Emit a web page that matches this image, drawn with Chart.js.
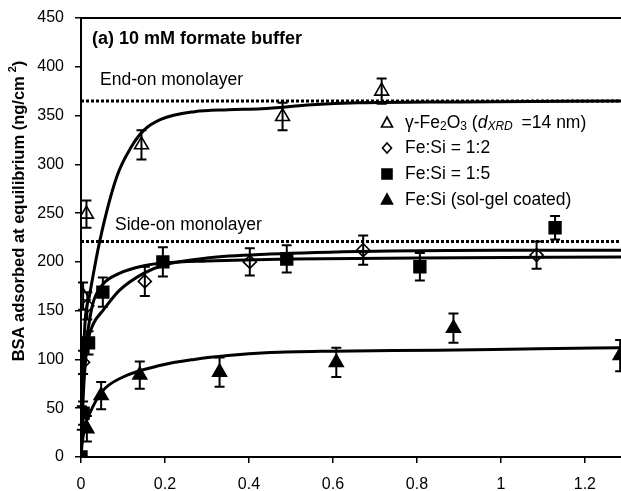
<!DOCTYPE html>
<html>
<head>
<meta charset="utf-8">
<script src="https://cdn.jsdelivr.net/npm/chart.js@4/dist/chart.umd.min.js"></script>
<style>
html,body{margin:0;padding:0;background:#fff;}
#wrap{width:621px;height:491px;position:relative;}
</style>
</head>
<body>
<div id="wrap"><canvas id="c"></canvas></div>
<script>
// ---- data ----
const xTickLabels = ['0','0.2','0.4','0.6','0.8','1','1.2'];
const yTickLabels = ['0','50','100','150','200','250','300','350','400','450'];

const gammaX   = [0, 0.005, 0.013, 0.144, 0.48, 0.716];
const gammaY   = [0, 165, 249, 320, 349, 375];
const gammaErr = [0, 14, 14, 15, 14, 13];

const fs12X   = [0, 0.002, 0.005, 0.015, 0.152, 0.402, 0.672, 1.085];
const fs12Y   = [0, 40, 97, 155, 180, 200, 212, 207];
const fs12Err = [0, 12, 12, 14, 15, 14, 15, 14];

const fs15X   = [0, 0.005, 0.018, 0.052, 0.195, 0.49, 0.807, 1.129];
const fs15Y   = [0, 45, 117, 169, 200, 203, 195, 235];
const fs15Err = [0, 12, 12, 15, 15, 14, 14, 12];

const solX   = [0, 0.014, 0.048, 0.14, 0.33, 0.608, 0.887, 1.284];
const solY   = [0, 29, 63, 84, 87, 97, 132, 104];
const solErr = [0, 13, 14, 14, 15, 15, 15, 16];

// fitted curves
const gammaFitX = [0, 0.004, 0.01, 0.02, 0.045, 0.085, 0.12, 0.15, 0.19, 0.27, 0.35, 0.43, 0.55, 0.66, 0.9, 1.29];
const gammaFitY = [0, 80, 140, 165, 222, 287, 318, 335, 346, 354, 356, 357, 361, 363, 364, 365];
const fs15FitX = [0, 0.003, 0.008, 0.015, 0.028, 0.052, 0.09, 0.15, 0.2, 0.3, 0.5, 0.8, 1.29];
const fs15FitY = [0, 55, 100, 125, 157, 177, 188, 196, 199, 201, 203, 204, 205];
const fs12FitX = [0, 0.004, 0.01, 0.017, 0.03, 0.052, 0.092, 0.148, 0.2, 0.3, 0.45, 0.7, 1.0, 1.29];
const fs12FitY = [0, 50, 95, 120, 137, 150, 171, 188, 197, 204, 208, 211, 212, 212];
const solFitX = [0, 0.003, 0.01, 0.02, 0.05, 0.1, 0.19, 0.27, 0.35, 0.45, 0.6, 0.85, 1.09, 1.29];
const solFitY = [0, 15, 32, 44, 67, 82, 94, 100, 104, 107, 108.5, 109.5, 111, 112];

const endOnLevel = 365;
const sideOnLevel = 221;
const xMin = 0, xMax = 1.286, yMin = 0, yMax = 450;

const panelTitle = '(a) 10 mM formate buffer';
const endOnText = 'End-on monolayer';
const sideOnText = 'Side-on monolayer';
const yTitleMain = 'BSA adsorbed at equilibrium (ng/cm';
const yTitleSup = '2';
const yTitleEnd = ')';

// ---- build datasets ----
const pts = (xs, ys) => xs.map((x, i) => ({x: x, y: ys[i]}));
const FONT = '"Liberation Sans", Arial, sans-serif';
Chart.defaults.font.family = FONT;
Chart.defaults.color = '#000';

const curve = (xs, ys) => ({
  type: 'line', data: pts(xs, ys), showLine: true, borderColor: '#000', borderWidth: 3,
  pointRadius: 0, cubicInterpolationMode: 'monotone', fill: false, order: 5
});
const level = (v) => ({
  type: 'line', data: [{x: xMin, y: v}, {x: xMax, y: v}], showLine: true, borderColor: '#000',
  borderWidth: 3, borderDash: [3, 2], pointRadius: 0, fill: false, order: 6
});
const marks = (xs, ys, errs, style, r, filled) => ({
  type: 'scatter', data: pts(xs, ys), errs: errs, showLine: false,
  pointStyle: style, pointRadius: r, pointHoverRadius: r,
  pointBackgroundColor: filled ? '#000' : 'rgba(0,0,0,0)', pointBorderColor: '#000',
  pointBorderWidth: 1.6, order: 1
});

const datasets = [
  curve(gammaFitX, gammaFitY),
  curve(fs15FitX, fs15FitY),
  curve(fs12FitX, fs12FitY),
  curve(solFitX, solFitY),
  level(endOnLevel),
  level(sideOnLevel),
  marks(gammaX, gammaY, gammaErr, 'triangle', 8, false),
  marks(fs12X, fs12Y, fs12Err, 'rectRot', 6.5, false),
  marks(fs15X, fs15Y, fs15Err, 'rect', 8.3, true),
  marks(solX, solY, solErr, 'triangle', 8, true)
];

// ---- plugins ----
const errorBars = {
  id: 'errorBars',
  afterDatasetsDraw(chart) {
    const ctx = chart.ctx, xs = chart.scales.x, ys = chart.scales.y;
    ctx.save();
    ctx.strokeStyle = '#000'; ctx.lineWidth = 2;
    chart.data.datasets.forEach(ds => {
      if (!ds.errs) return;
      ds.data.forEach((p, i) => {
        const e = ds.errs[i];
        if (!e) return;
        const px = xs.getPixelForValue(p.x);
        const y1 = ys.getPixelForValue(p.y + e), y2 = ys.getPixelForValue(p.y - e);
        ctx.beginPath();
        ctx.moveTo(px, y1); ctx.lineTo(px, y2);
        ctx.moveTo(px - 5, y1); ctx.lineTo(px + 5, y1);
        ctx.moveTo(px - 5, y2); ctx.lineTo(px + 5, y2);
        ctx.stroke();
      });
    });
    ctx.restore();
  }
};

function drawMarker(ctx, style, x, y, filled) {
  ctx.beginPath();
  if (style === 'triangle') {
    ctx.moveTo(x, y - 6); ctx.lineTo(x + 5.5, y + 4); ctx.lineTo(x - 5.5, y + 4); ctx.closePath();
  } else if (style === 'diamond') {
    ctx.moveTo(x, y - 5); ctx.lineTo(x + 4.5, y); ctx.lineTo(x, y + 5); ctx.lineTo(x - 4.5, y); ctx.closePath();
  } else {
    ctx.rect(x - 5, y - 5, 10, 10);
  }
  ctx.lineWidth = 1.6; ctx.strokeStyle = '#000';
  if (filled) { ctx.fillStyle = '#000'; ctx.fill(); }
  ctx.stroke();
}

function runs(ctx, parts, x, y) {
  parts.forEach(p => {
    ctx.font = p.f;
    ctx.fillText(p.t, x, y + (p.dy || 0));
    x += ctx.measureText(p.t).width + (p.gap || 0);
  });
}

const decorations = {
  id: 'decorations',
  afterDraw(chart) {
    const ctx = chart.ctx, a = chart.chartArea;
    ctx.save();
    // top frame line
    ctx.strokeStyle = '#000'; ctx.lineWidth = 2;
    ctx.beginPath(); ctx.moveTo(a.left, a.top); ctx.lineTo(a.right, a.top); ctx.stroke();

    ctx.fillStyle = '#000';
    ctx.textBaseline = 'middle';
    ctx.textAlign = 'left';
    ctx.font = 'bold 18px ' + FONT;
    ctx.fillText(panelTitle, 92, 39);
    ctx.font = '17.5px ' + FONT;
    ctx.fillText(endOnText, 100, 80);
    ctx.fillText(sideOnText, 115, 225);

    // legend
    const lx = 387, tx = 405;
    const rows = [123, 148, 174, 200];
    drawMarker(ctx, 'triangle', lx, rows[0], false);
    drawMarker(ctx, 'diamond', lx, rows[1], false);
    drawMarker(ctx, 'rect', lx, rows[2], true);
    drawMarker(ctx, 'triangle', lx, rows[3], true);
    const R = '17.5px ' + FONT, S = '12px ' + FONT, I = 'italic 17.5px ' + FONT, IS = 'italic 12px ' + FONT;
    runs(ctx, [
      {t: 'γ-Fe', f: R}, {t: '2', f: S, dy: 4}, {t: 'O', f: R}, {t: '3', f: S, dy: 4},
      {t: ' (', f: R}, {t: 'd', f: I}, {t: 'XRD', f: IS, dy: 4, gap: 4}, {t: ' =14 nm)', f: R}
    ], tx, rows[0]);
    ctx.font = R;
    ctx.fillText('Fe:Si = 1:2', tx, rows[1]);
    ctx.fillText('Fe:Si = 1:5', tx, rows[2]);
    ctx.fillText('Fe:Si (sol-gel coated)', tx, rows[3]);

    // y title
    ctx.translate(19, 211);
    ctx.rotate(-Math.PI / 2);
    const B = 'bold 16.5px ' + FONT, BS = 'bold 11px ' + FONT;
    ctx.font = B;
    const w1 = ctx.measureText(yTitleMain).width;
    ctx.font = BS; const w2 = ctx.measureText(yTitleSup).width;
    ctx.font = B; const w3 = ctx.measureText(yTitleEnd).width;
    const total = w1 + 4 + w2 + w3;
    runs(ctx, [
      {t: yTitleMain, f: B, gap: 4}, {t: yTitleSup, f: BS, dy: -6}, {t: yTitleEnd, f: B}
    ], -total / 2, 0);
    ctx.restore();
  }
};

new Chart(document.getElementById('c'), {
  type: 'scatter',
  data: {datasets: datasets},
  options: {
    responsive: true, maintainAspectRatio: false, animation: false,
    layout: {autoPadding: false, padding: {top: 18, right: 0, left: 0, bottom: 0}},
    plugins: {legend: {display: false}, tooltip: {enabled: false}},
    scales: {
      x: {
        type: 'linear', min: xMin, max: xMax,
        border: {display: true, color: '#000', width: 2},
        grid: {drawOnChartArea: false, drawTicks: true, tickLength: 6, color: '#000', lineWidth: 1.5},
        ticks: {stepSize: 0.2, includeBounds: false, padding: 12, color: '#000',
          font: {size: 16, family: FONT},
          callback: (v, i) => xTickLabels[i] !== undefined ? xTickLabels[i] : ''},
        afterFit: s => { s.height = 34; s.paddingLeft = 0; s.paddingRight = 0; }
      },
      y: {
        type: 'linear', min: yMin, max: yMax,
        border: {display: true, color: '#000', width: 2},
        grid: {drawOnChartArea: false, drawTicks: true, tickLength: 6, color: '#000', lineWidth: 1.5},
        ticks: {stepSize: 50, padding: 11, color: '#000',
          font: {size: 16, family: FONT},
          callback: (v, i) => yTickLabels[i] !== undefined ? yTickLabels[i] : ''},
        afterFit: s => { s.width = 81; s.paddingTop = 0; s.paddingBottom = 0; }
      }
    }
  },
  plugins: [errorBars, decorations]
});
</script>
</body>
</html>
